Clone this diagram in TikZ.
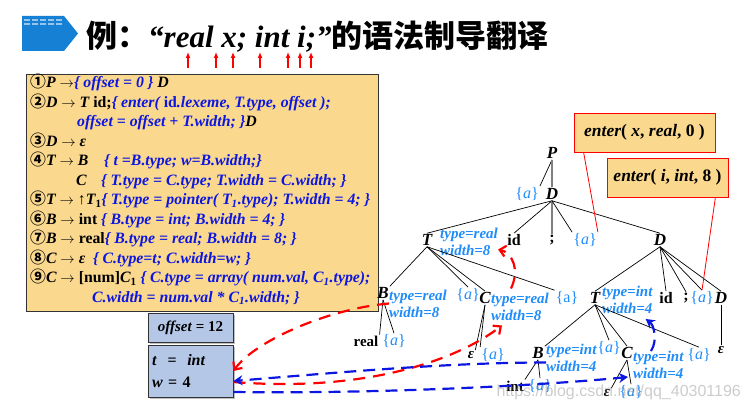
\documentclass[tikz,border=0pt]{standalone}
\usepackage{fontspec}
\setmainfont{Liberation Serif}
\newfontfamily\cjk{Noto Sans CJK SC}
\newfontfamily\wmfont{Liberation Sans}
\usetikzlibrary{arrows.meta, shadows}

\definecolor{boxtan}{RGB}{250,216,142}
\definecolor{boxblue}{RGB}{180,199,231}
\definecolor{actblue}{RGB}{12,22,225}
\definecolor{attrblue}{RGB}{30,140,250}
\definecolor{titleblue}{RGB}{22,128,212}

\newcommand{\sym}[1]{{\bfseries\itshape #1}}
\newcommand{\act}[1]{{\color{actblue}\bfseries\itshape #1}}
\newcommand{\cn}[1]{{\cjk #1}}
\newcommand{\semact}{\{\textit{a}\}}
\newcommand{\prodto}{$\rightarrow$}

\tikzset{
  gline/.style={anchor=base west, inner sep=0, font=\fontsize{15.8}{19}\selectfont\bfseries},
  sym/.style={inner sep=1pt, font=\fontsize{17}{20}\selectfont\bfseries\itshape},
  term/.style={inner sep=1pt, font=\fontsize{16}{19}\selectfont\bfseries},
  act/.style={inner sep=1pt, text=attrblue, font=\fontsize{16}{19}\selectfont},
  attr/.style={anchor=west, inner sep=0, align=left, text=attrblue,
    font=\fontsize{15}{17}\selectfont\bfseries\itshape},
  treeline/.style={draw=black, line width=0.7pt},
  greyline/.style={draw=gray, line width=1.3pt},
  enterbox/.style={draw=red, fill=boxtan, line width=0.8pt, minimum width=141pt,
    minimum height=39pt, font=\fontsize{17.5}{20}\selectfont\bfseries},
  valbox/.style={draw=black!80, fill=boxblue, line width=1pt, minimum width=85pt,
    drop shadow={shadow xshift=1.5pt, shadow yshift=-1.5pt, fill=gray},
    font=\fontsize{15}{18}\selectfont\bfseries},
  reddash/.style={draw=red, line width=2.2pt, dash pattern=on 12pt off 8pt,
    -{Straight Barb[length=6pt,width=11pt]}},
  bluedash/.style={draw=actblue, line width=2.2pt, dash pattern=on 12pt off 7pt,
    -{Stealth[length=9pt,width=10pt]}}
}

\begin{document}
\begin{tikzpicture}[x=1pt, y=-1pt]
\useasboundingbox (0,0) rectangle (746,411);

% title
\fill[titleblue] (22,16) -- (64,16) -- (78,33.5) -- (64,51) -- (22,51) -- cycle;
\draw[white!55!titleblue, line width=1.2pt, dash pattern=on 6pt off 2pt] (24,20) -- (62,20);
\draw[white!55!titleblue, line width=1.2pt, dash pattern=on 6pt off 2pt] (24,24) -- (62,24);
\node (title) [anchor=west, inner sep=0, font=\fontsize{31}{34}\selectfont\bfseries] at (86,37)
  {{\cjk 例：}{\itshape “real x; int i;”}{\cjk 的语法制导翻译}};
\foreach \x in {188,216,233,260,288,300,311}
  \draw[red, line width=1.4pt, -{Latex[length=6pt,width=5pt]}] (\x,68) -- (\x,52);

% grammar box
\node (gbox) [draw=black!80, fill=boxtan, line width=1pt, minimum width=352pt,
  minimum height=237pt, anchor=north west, inner sep=0] at (26,74) {};
\node (g1) [gline] at (30,88) {\cn{①}\sym{P} \prodto\act{\{ offset = 0 \}} \sym{D}};
\node (g2) [gline] at (30,107.5) {\cn{②}\sym{D} \prodto{} \sym{T} id;\act{\{ enter( {\upshape id}.lexeme, T.type, offset );}};
\node (g3) [gline] at (77,127) {\act{offset = offset + T.width; \}}\sym{D}};
\node (g4) [gline] at (30,146.5) {\cn{③}\sym{D} \prodto{} \sym{ε}};
\node (g5) [gline] at (30,166) {\cn{④}\sym{T} \prodto{} \sym{B}};
\node (g5a) [gline] at (104,166) {\act{\{ t =B.type; w=B.width;\}}};
\node (g6) [gline] at (76,185.5) {\sym{C}};
\node (g6a) [gline] at (101,185.5) {\act{\{ T.type = C.type; T.width = C.width; \}}};
\node (g7) [gline] at (30,205) {\cn{⑤}\sym{T} \prodto{} ↑\sym{T}\textsubscript{1}\act{\{ T.type = pointer( T\textsubscript{1}.type); T.width = 4; \}}};
\node (g8) [gline] at (30,224.5) {\cn{⑥}\sym{B} \prodto{} int \act{\{ B.type = int; B.width = 4; \}}};
\node (g9) [gline] at (30,244) {\cn{⑦}\sym{B} \prodto{} real\act{\{ B.type = real; B.width = 8; \}}};
\node (g10) [gline] at (30,263.5) {\cn{⑧}\sym{C} \prodto{} \sym{ε}\ \ \act{\{ C.type=t; C.width=w; \}}};
\node (g11) [gline] at (30,283) {\cn{⑨}\sym{C} \prodto{} [num]\sym{C}\textsubscript{1} \act{\{ C.type = array( num.val, C\textsubscript{1}.type);}};
\node (g12) [gline] at (92,302.5) {\act{C.width = num.val * C\textsubscript{1}.width; \}}};

% value boxes
\node (offbox) [valbox, minimum height=29pt] at (190.5,327.5) {\textit{offset} = 12};
\node (twbox) [valbox, minimum height=52pt, text width=77pt, inner sep=4pt, align=left,
  font=\fontsize{16}{22}\selectfont\bfseries] at (190.5,371) {\textit{t}\ \ =\ \ \textit{int}\\\textit{w} = 4};

% enter boxes
\node (enter1) [enterbox] at (644.5,132.5) {\textit{enter}( \textit{x}, \textit{real}, 0 )};
\node (enter2) [enterbox, minimum width=121pt] at (667.5,177.5) {\textit{enter}( \textit{i}, \textit{int}, 8 )};

% parse tree
\node (P) [sym] at (552,153) {P};
\node (a1) [act] at (527,194) {\semact};
\node (D1) [sym] at (552,194) {D};
\node (T1) [sym] at (427,240) {T};
\node (T1attr) [attr] at (440,241.5) {type=real\\width=8};
\node (id1) [term] at (514,240) {id};
\node (semi1) [term] at (552,240) {;};
\node (a2) [act] at (585,240) {\semact};
\node (D2) [sym] at (660,240) {D};
\node (B1) [sym] at (383,293) {B};
\node (B1attr) [attr] at (389,303.5) {type=real\\width=8};
\node (a3) [act] at (468,295) {\semact};
\node (C1) [sym] at (485,298) {C};
\node (C1attr) [attr] at (491,306.5) {type=real\\width=8};
\node (a4) [act] at (567,298) {\{a\}};
\node (real1) [term, font=\fontsize{15}{18}\selectfont\bfseries] at (366,341) {real};
\node (a5) [act] at (394,341) {\semact};
\node (eps1) [sym, font=\fontsize{15}{18}\selectfont\bfseries\itshape] at (471,355) {ε};
\node (a6) [act] at (493,355) {\semact};
\node (T2) [sym] at (595,298) {T};
\node (T2attr) [attr] at (602,300) {type=int\\width=4};
\node (id2) [term] at (666,298) {id};
\node (semi2) [term] at (686,298) {;};
\node (a7) [act] at (702,298) {\semact};
\node (D3) [sym] at (721,298) {D};
\node (eps2) [sym, font=\fontsize{15}{18}\selectfont\bfseries\itshape] at (721,350) {ε};
\node (B2) [sym] at (538,353) {B};
\node (B2attr) [attr] at (546,357.5) {type=int\\width=4};
\node (a8) [act] at (609,348) {\semact};
\node (C2) [sym] at (627,353) {C};
\node (C2attr) [attr] at (633,365) {type=int\\width=4};
\node (a9) [act] at (699,355) {\semact};
\node (int2) [term, font=\fontsize{15}{18}\selectfont\bfseries] at (515,386) {int};
\node (a10) [act] at (540,386) {\semact};
\node (eps3) [sym, font=\fontsize{15}{18}\selectfont\bfseries\itshape] at (607,393) {ε};
\node (a11) [act] at (631,392) {\semact};

\draw[treeline] (P.south) -- (a1.north east);
\draw[greyline] (P.south) -- (D1.north);
\draw[treeline] (D1.south) -- (T1.north);
\draw[treeline] (D1.south) -- (id1.north);
\draw[greyline] (D1.south) -- (semi1.north);
\draw[treeline] (D1.south) -- (a2.north west);
\draw[treeline] (D1.south) -- (D2.north);
\foreach \c in {B1.north east, a3.north, C1.north, a4.north west}
  \draw[treeline] (T1.south) -- (\c);
\draw[treeline] (B1.south) -- (real1.north east);
\draw[treeline] (B1.south) -- (a5.north);
\draw[treeline] (C1.south) -- (eps1.north east);
\draw[treeline] (C1.south) -- (a6.north west);
\foreach \c in {T2.north, id2.north, semi2.north, a7.north, D3.north}
  \draw[treeline] (D2.south) -- (\c);
\draw[treeline] (D3.south) -- (eps2.north);
\foreach \c in {B2.north east, a8.north, C2.north, a9.north}
  \draw[treeline] (T2.south) -- (\c);
\draw[treeline] (B2.south) -- (int2.north east);
\draw[treeline] (B2.south) -- (a10.north);
\draw[treeline] (C2.south) -- (eps3.north east);
\draw[treeline] (C2.south) -- (a11.north);

% enter links
\draw[red, line width=0.8pt] ([xshift=10pt]enter1.south west) -- (a2.north east);
\draw[red, line width=0.8pt] ([xshift=-13pt]enter2.south east) -- (a7.north);

% attribute flow
\draw[reddash] ([xshift=20pt,yshift=4pt]C1attr.north west) .. controls +(9,-19) and +(14,3) .. ([yshift=-8pt]T1attr.east);
\draw[reddash] ([yshift=-11pt]twbox.east) .. controls +(125,10) and +(-50,38) .. ([xshift=11pt,yshift=-5pt]C1attr.south west);
\draw[reddash] (B1attr.west) .. controls +(-60,5) and +(21,-30) .. (twbox.east);
\draw[bluedash] ([yshift=-5pt]B2attr.west) .. controls +(-100,0) and +(100,-8) .. ([yshift=-10pt]twbox.east);
\draw[bluedash] ([yshift=-21pt]twbox.east) .. controls +(150,2) and +(-80,8) .. ([xshift=-5pt,yshift=-12pt]C2attr.west);
\draw[bluedash] ([xshift=18pt]C2attr.north west) .. controls +(7,-11) and +(8,6) .. ([xshift=-7pt,yshift=-5pt]T2attr.south east);

% watermark
\node (wm) [anchor=west, text=gray, opacity=0.4, font=\wmfont\fontsize{16}{16}\selectfont] at (493,392) {https://blog.csdn.net/qq\_40301196};
\end{tikzpicture}
\end{document}
